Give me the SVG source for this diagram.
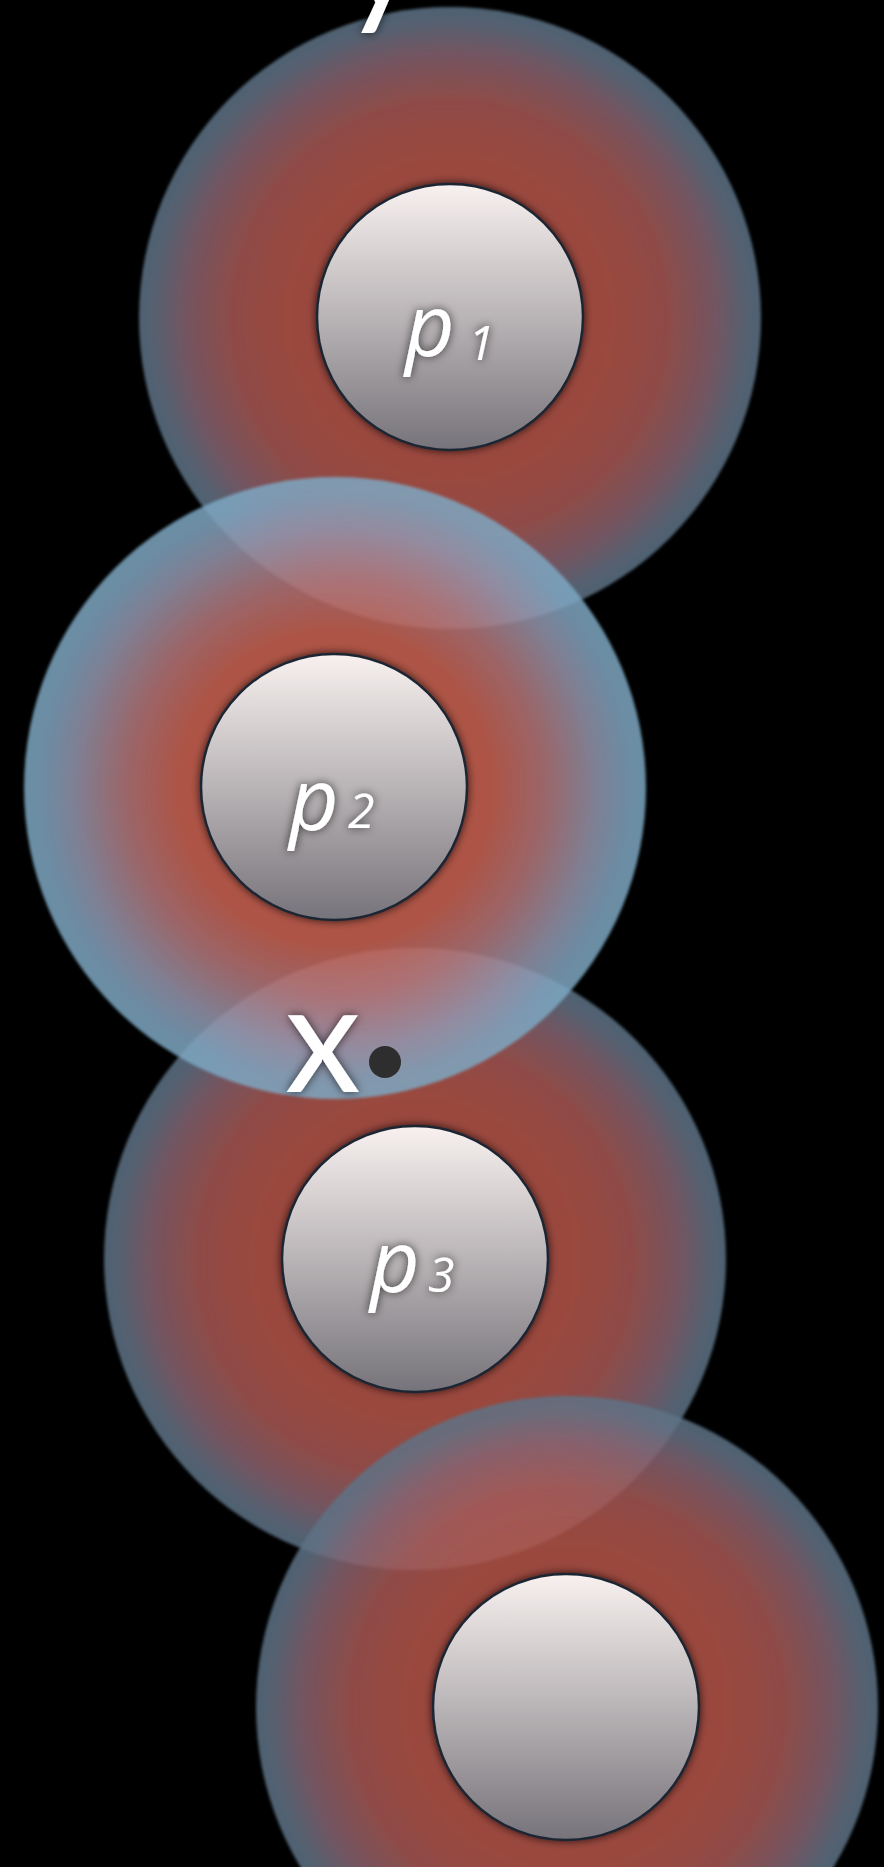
<svg xmlns="http://www.w3.org/2000/svg" width="884" height="1867" viewBox="0 0 884 1867">
<defs>
<radialGradient id="gA" cx="0.5" cy="0.5" r="0.5">
<stop offset="0" stop-color="#b65548"/>
<stop offset="0.5" stop-color="#b65548"/>
<stop offset="0.7" stop-color="#a85955"/>
<stop offset="0.85" stop-color="#886471"/>
<stop offset="0.95" stop-color="#657184"/>
<stop offset="1" stop-color="#5c7386"/>
</radialGradient>
<radialGradient id="gB" cx="0.5" cy="0.5" r="0.5">
<stop offset="0" stop-color="#cc6352"/>
<stop offset="0.5" stop-color="#cc6352"/>
<stop offset="0.66" stop-color="#b87678"/>
<stop offset="0.83" stop-color="#9795ac"/>
<stop offset="0.94" stop-color="#80a5c0"/>
<stop offset="1" stop-color="#7da8c3"/>
</radialGradient>
<linearGradient id="gIn" x1="0" y1="0" x2="0" y2="1">
<stop offset="0" stop-color="#f8f1f0"/>
<stop offset="0.5" stop-color="#b9b4b6"/>
<stop offset="1" stop-color="#76737a"/>
</linearGradient>
<filter id="soft" x="-5%" y="-5%" width="110%" height="110%">
<feGaussianBlur stdDeviation="1.5"/>
</filter>
<filter id="shadow" x="-20%" y="-20%" width="140%" height="140%">
<feDropShadow dx="0" dy="0" stdDeviation="4" flood-color="#000" flood-opacity="0.75"/>
</filter>
<filter id="tshadow" x="-30%" y="-30%" width="160%" height="160%">
<feGaussianBlur in="SourceAlpha" stdDeviation="5" result="b"/>
<feFlood flood-color="#000" flood-opacity="0.7"/>
<feComposite in2="b" operator="in" result="s"/>
<feMerge><feMergeNode in="s"/><feMergeNode in="SourceGraphic"/></feMerge>
</filter>
<style>
.halo{opacity:0.85;filter:url(#soft)}
.core{fill:url(#gIn);stroke:#1d2533;stroke-width:2.5;filter:url(#shadow)}
.lbl{fill:#fff;font-family:"Open Sans",Lato,sans-serif;font-style:italic;font-size:86px;filter:url(#tshadow)}
.sub{fill:#fff;font-family:"Open Sans",Lato,sans-serif;font-style:italic;font-size:48px;filter:url(#tshadow)}
.big{fill:#fff;font-family:Lato,"Open Sans",sans-serif;font-size:152px;filter:url(#tshadow)}
</style>
</defs>
<rect width="884" height="1867" fill="#000"/>
<g id="halos">
<circle class="halo" cx="450" cy="318" r="311" fill="url(#gA)"/>
<circle class="halo" cx="415" cy="1259" r="311" fill="url(#gA)"/>
<circle class="halo" cx="335" cy="788" r="311" fill="url(#gB)"/>
<circle class="halo" cx="567" cy="1707" r="311" fill="url(#gA)"/>
</g>
<g id="label-y"><text class="big" x="342" y="7">y</text></g>
<g id="node-p1">
<circle class="core" cx="450" cy="317" r="133"/>
<text class="lbl" x="405" y="356">p</text>
<text class="sub" x="468" y="360">1</text>
</g>
<g id="node-p2">
<circle class="core" cx="334" cy="787" r="133"/>
<text class="lbl" x="289" y="830">p</text>
<text class="sub" x="348" y="828">2</text>
</g>
<g id="node-p3">
<circle class="core" cx="415" cy="1259" r="133"/>
<text class="lbl" x="370" y="1292">p</text>
<text class="sub" x="428" y="1292">3</text>
</g>
<g id="node-p4">
<circle class="core" cx="566" cy="1707" r="133"/>
</g>
<g id="point-x">
<text class="big" x="285" y="1092">x</text>
<circle cx="385" cy="1062" r="16" fill="#2e2e2e"/>
</g>
<g id="connectors"></g>
</svg>
